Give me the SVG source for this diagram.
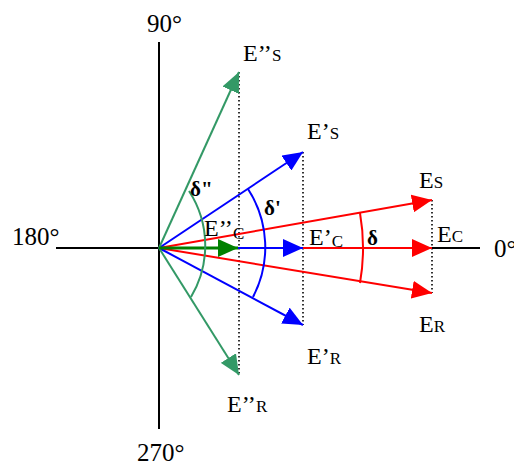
<svg xmlns="http://www.w3.org/2000/svg" width="514" height="465" viewBox="0 0 514 465">
<style>
text{font-family:"Liberation Serif","Times New Roman",serif;fill:#000}
.deg{font-size:25px}
.lab{font-size:24px}
.sm{font-size:17px}
.dl{font-size:21px;font-weight:bold}
.axis{stroke:#000;stroke-width:2;fill:none}
.dot{stroke:#000;stroke-width:1.6;stroke-dasharray:1.5 2.5;fill:none}
.r{stroke:#ff0000;stroke-width:2;fill:none}
.b{stroke:#0000ff;stroke-width:2;fill:none}
.g{stroke:#339966;stroke-width:2;fill:none}
.dg{stroke:#008000;stroke-width:3;fill:none}
</style>
<defs>
<marker id="ar" viewBox="0 0 20 18" refX="20" refY="9" markerWidth="20" markerHeight="18" markerUnits="userSpaceOnUse" orient="auto"><path d="M0,0 L20,9 L0,18 z" fill="#ff0000"/></marker>
<marker id="ab" viewBox="0 0 20 18" refX="20" refY="9" markerWidth="20" markerHeight="18" markerUnits="userSpaceOnUse" orient="auto"><path d="M0,0 L20,9 L0,18 z" fill="#0000ff"/></marker>
<marker id="ag" viewBox="0 0 20 18" refX="20" refY="9" markerWidth="20" markerHeight="18" markerUnits="userSpaceOnUse" orient="auto"><path d="M0,0 L20,9 L0,18 z" fill="#339966"/></marker>
<marker id="adg" viewBox="0 0 20 18" refX="20" refY="9" markerWidth="20" markerHeight="18" markerUnits="userSpaceOnUse" orient="auto"><path d="M0,0 L20,9 L0,18 z" fill="#008000"/></marker>
</defs>
<g id="axes">
<line class="axis" x1="159" y1="42" x2="159" y2="429"/>
<line class="axis" x1="56" y1="248" x2="480" y2="248"/>
<text class="deg" x="147" y="32">90°</text>
<text class="deg" x="12" y="245">180°</text>
<text class="deg" x="494" y="257">0°</text>
<text class="deg" x="137" y="461">270°</text>
</g>
<g id="projections">
<line class="dot" x1="239" y1="72" x2="239" y2="375"/>
<line class="dot" x1="303" y1="152" x2="303" y2="325"/>
<line class="dot" x1="432" y1="200" x2="432" y2="293"/>
</g>
<g id="connectors">
<line class="r" x1="159" y1="248" x2="432" y2="200" marker-end="url(#ar)"/>
<line class="r" x1="159" y1="248" x2="432" y2="293" marker-end="url(#ar)"/>
<line class="r" x1="159" y1="248" x2="432" y2="248" marker-end="url(#ar)"/>
<line class="b" x1="159" y1="248" x2="303" y2="152" marker-end="url(#ab)"/>
<line class="b" x1="159" y1="248" x2="303" y2="325" marker-end="url(#ab)"/>
<line class="b" x1="159" y1="248" x2="303" y2="248" marker-end="url(#ab)"/>
<line class="g" x1="159" y1="248" x2="239" y2="72" marker-end="url(#ag)"/>
<line class="g" x1="159" y1="248" x2="239" y2="375" marker-end="url(#ag)"/>
<line class="dg" x1="159" y1="248" x2="238" y2="248" marker-end="url(#adg)"/>
</g>
<g id="angles">
<path class="r" d="M360,213 A204,204 0 0 1 360,283"/>
<path class="b" d="M248,189 A107,107 0 0 1 253,297"/>
<path class="g" d="M189,191 A100,100 0 0 1 191,297"/>
<text class="dl" x="367" y="245">δ</text>
<text class="dl" x="264" y="215">δ'</text>
<text class="dl" x="190" y="196">δ"</text>
</g>
<g id="labels">
<text class="lab" x="243" y="61">E’’<tspan class="sm">S</tspan></text>
<text class="lab" x="307" y="139">E’<tspan class="sm">S</tspan></text>
<text class="lab" x="419" y="188">E<tspan class="sm">S</tspan></text>
<text class="lab" x="437" y="242">E<tspan class="sm">C</tspan></text>
<text class="lab" x="309" y="245">E’<tspan class="sm" dy="2">C</tspan></text>
<text class="lab" x="204" y="236">E’’<tspan class="sm" dy="3">C</tspan></text>
<text class="lab" x="419" y="332">E<tspan class="sm">R</tspan></text>
<text class="lab" x="307" y="364">E’<tspan class="sm">R</tspan></text>
<text class="lab" x="227" y="412">E’’<tspan class="sm">R</tspan></text>
</g>
</svg>
